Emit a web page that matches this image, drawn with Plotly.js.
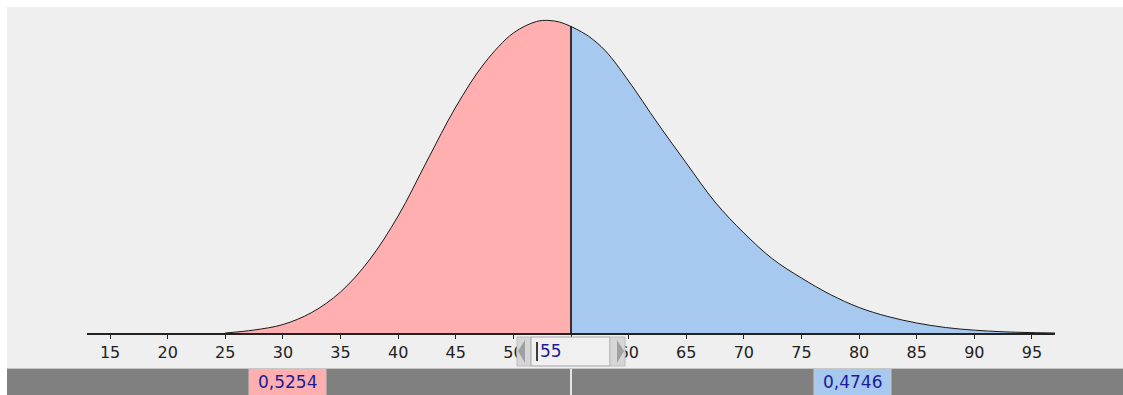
<!DOCTYPE html>
<html>
<head>
<meta charset="utf-8">
<script src="https://cdn.plot.ly/plotly-3.0.1.min.js"></script>
<style>
  html, body { margin: 0; padding: 0; background: #fff; }
  #chart { width: 1123px; height: 395px; }
</style>
</head>
<body>
<div id="chart"></div>
<script>
// density curve
const xs   = [25, 27.5, 30, 32.5, 35, 37.5, 40, 42.5, 45, 47.5, 50, 52, 53, 54, 55,
              56.5, 58, 60, 62.5, 65, 67.5, 70, 72.5, 75, 77.5, 80, 82.5, 85, 87.5, 90, 92.5, 95, 97];
const dens = [0, 0.00037, 0.00105, 0.00254, 0.00508, 0.00904, 0.01449, 0.02130, 0.02799, 0.03344, 0.03716,
              0.03858, 0.03872, 0.03852, 0.03797,
              0.03678, 0.03493, 0.03121, 0.02601, 0.02106, 0.01622, 0.01239, 0.00917, 0.00681, 0.00477,
              0.00316, 0.00204, 0.00124, 0.00068, 0.00035, 0.00015, 0.00005, 0];

const cut = 55;
const leftShare  = '0,5254';
const rightShare = '0,4746';
const tickVals = [15, 20, 25, 30, 35, 40, 45, 50, 55, 60, 65, 70, 75, 80, 85, 90, 95];
const xRange = [13, 97];

// page geometry (pixels)
const W = 1123, H = 395, L = 87, R = 68, T = 7, B = 62;
const PW = W - L - R, PH = H - T - B;
const px = X => (X - L) / PW;
const py = Y => (H - B - Y) / PH;
const cutX = L + (cut - xRange[0]) / (xRange[1] - xRange[0]) * PW;

const iCut = xs.indexOf(cut);
const leftX = xs.slice(0, iCut + 1), leftY = dens.slice(0, iCut + 1);
const rightX = xs.slice(iCut), rightY = dens.slice(iCut);

const traces = [
    { x: leftX, y: leftY, type: 'scatter', mode: 'lines', fill: 'tozeroy',
      fillcolor: '#ffafaf', line: { color: '#1a1a1a', width: 1, shape: 'spline', smoothing: 1 } },
    { x: rightX, y: rightY, type: 'scatter', mode: 'lines', fill: 'tozeroy',
      fillcolor: '#a7c9ef', line: { color: '#1a1a1a', width: 1, shape: 'spline', smoothing: 1 } },
    { x: [cut, cut], y: [0, dens[iCut]], type: 'scatter', mode: 'lines',
      line: { color: '#000', width: 1.5 } }
];

function rect(x0, x1, y0, y1, fill, line, layer) {
    return { type: 'rect', xref: 'paper', yref: 'paper',
             x0: px(x0), x1: px(x1), y0: py(y1), y1: py(y0),
             fillcolor: fill, line: line || { width: 0 }, layer: layer || 'above' };
}
function tri(pts, fill) {
    const d = pts.map((p, i) => (i ? 'L' : 'M') + px(p[0]) + ',' + py(p[1])).join(' ') + ' Z';
    return { type: 'path', xref: 'paper', yref: 'paper', path: d,
             fillcolor: fill, line: { width: 0 }, layer: 'above' };
}

const shapes = [
    rect(7, W, 7, 368, '#efefef', null, 'below'),
    rect(7, W, 368, H, '#808080', null, 'above'),
    { type: 'line', xref: 'paper', yref: 'paper', x0: px(7), x1: px(W), y0: py(368.5), y1: py(368.5),
      line: { color: '#c4c4c4', width: 1 }, layer: 'above' },
    { type: 'line', xref: 'x', yref: 'paper', x0: cut, x1: cut, y0: py(369), y1: py(H),
      line: { color: '#e4e4e4', width: 2 }, layer: 'above' },
    // share boxes
    rect(cutX - 322, cutX - 245, 369, H + 2, '#ffafaf', { color: '#c8c8c8', width: 1 }),
    rect(cutX + 243, cutX + 320, 369, H + 2, '#a7c9ef', { color: '#c8c8c8', width: 1 }),
    // spinner widget
    rect(cutX - 54, cutX - 40, 337, 366, '#d6d6d6', { color: '#bdbdbd', width: 1 }),
    tri([[cutX - 53, 351], [cutX - 46, 340], [cutX - 46, 363]], '#a0a0a0'),
    rect(cutX - 40, cutX + 39, 337, 366, '#f0f0f0', { color: '#a6a6a6', width: 1 }),
    rect(cutX + 39, cutX + 54, 337, 366, '#d6d6d6', { color: '#bdbdbd', width: 1 }),
    tri([[cutX + 53, 351], [cutX + 46, 340], [cutX + 46, 363]], '#a0a0a0'),
    { type: 'line', xref: 'paper', yref: 'paper', x0: px(cutX - 34), x1: px(cutX - 34),
      y0: py(342), y1: py(361), line: { color: '#000', width: 1.5 }, layer: 'above' }
];

const textFont = { family: 'DejaVu Sans', size: 17, color: '#1c1c96' };
const annotations = [
    { xref: 'paper', yref: 'paper', x: px(cutX - 33), y: py(351), text: String(cut),
      xanchor: 'left', yanchor: 'middle', showarrow: false, font: textFont },
    { xref: 'paper', yref: 'paper', x: px(cutX - 283.5), y: py(382), text: leftShare,
      xanchor: 'center', yanchor: 'middle', showarrow: false, font: textFont },
    { xref: 'paper', yref: 'paper', x: px(cutX + 281.5), y: py(382), text: rightShare,
      xanchor: 'center', yanchor: 'middle', showarrow: false, font: textFont }
];

const layout = {
    width: W, height: H,
    margin: { l: L, r: R, t: T, b: B, pad: 0 },
    paper_bgcolor: '#ffffff', plot_bgcolor: 'rgba(0,0,0,0)',
    showlegend: false, hovermode: false,
    xaxis: {
        range: xRange, showgrid: false, zeroline: false,
        showline: true, linecolor: '#222', linewidth: 1.5,
        tickmode: 'array', tickvals: tickVals, ticktext: tickVals.map(String),
        ticks: 'outside', ticklen: 4, tickwidth: 1, tickcolor: '#222',
        ticklabelstandoff: 0,
        tickfont: { family: 'DejaVu Sans', size: 16, color: '#222' }
    },
    yaxis: {
        range: [0, Math.max(...dens) * PH / 312.6], visible: false, showgrid: false, zeroline: false
    },
    shapes: shapes,
    annotations: annotations
};

Plotly.newPlot('chart', traces, layout, { displayModeBar: false, staticPlot: true });
</script>
</body>
</html>
